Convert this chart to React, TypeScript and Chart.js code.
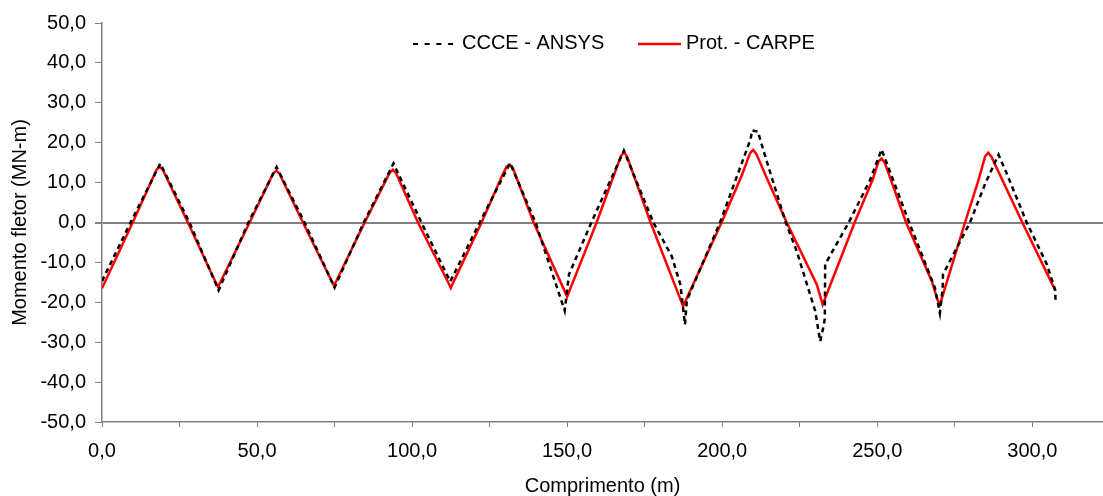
import React, { useEffect, useRef } from "react";
import { Chart, registerables } from "chart.js";

Chart.register(...registerables);

// Series names (legend order)
const seriesNames = ["CCCE - ANSYS", "Prot. - CARPE"];

// CCCE - ANSYS (black dashed)
const ansysX = [0, 9.2, 18.8, 28.2, 37.6, 47.2, 56.3, 65.3, 75.0, 84.4, 94.0, 103.0, 112.3, 121.8, 131.6, 139.8, 149.2, 150.6, 157.8, 168.3, 177.8, 183.7, 186.5, 188.0, 188.6, 199.3, 209.2, 209.6, 211.5, 214.3, 220.5, 224.0, 230.0, 231.6, 232.8, 233.1, 233.2, 240.8, 247.6, 251.4, 260.3, 268.6, 270.2, 271.1, 271.2, 279.9, 284.8, 289.1, 291.8, 298.2, 304.7, 307.4, 307.5];
const ansysY = [-14.7, 0, 14.8, 0, -17.0, 0, 13.9, 0, -16.3, 0, 14.8, 0, -14.8, 0, 14.9, 0, -22.1, -13.0, 0, 18.0, 0, -8.4, -15.5, -25.6, -19.5, 0, 21.0, 23.1, 22.8, 15.5, 0, -7.1, -22.2, -29.8, -25.6, -23.9, -10.5, 0, 10.5, 18.3, 0, -16.4, -22.7, -16.4, -13.0, 0, 9.7, 17.0, 12.2, 0, -10.5, -17.0, -20.2];

// Prot. - CARPE (red solid)
const carpeX = [0, 9.9, 17.6, 18.6, 19.6, 27.7, 36.6, 37.4, 38.2, 47.6, 55.2, 56.2, 57.2, 64.8, 74.0, 74.8, 75.6, 84.7, 92.8, 93.8, 94.8, 101.9, 111.7, 112.5, 113.3, 122.4, 129.3, 130.5, 131.5, 132.5, 139.2, 149.2, 150.0, 150.8, 159.5, 167.3, 168.3, 169.3, 176.9, 186.6, 187.4, 188.2, 199.8, 206.3, 209.0, 210.0, 211.0, 214.3, 220.8, 230.5, 232.4, 233.2, 242.7, 248.6, 250.4, 251.4, 252.4, 259.3, 267.6, 269.4, 270.2, 271.0, 278.3, 282.6, 284.8, 285.8, 286.8, 296.8, 307.4];
const carpeY = [-16.5, 0, 13.2, 14.0, 13.2, 0, -14.9, -16.1, -14.9, 0, 12.3, 13.0, 12.3, 0, -14.6, -15.8, -14.6, 0, 12.5, 13.2, 12.4, 0, -15.1, -16.4, -15.0, 0, 12.2, 14.0, 14.5, 13.6, 0, -17.2, -18.6, -17.0, 0, 16.6, 17.6, 16.6, 0, -19.4, -21.0, -19.6, 0, 11.8, 17.4, 18.2, 17.2, 11.3, 0, -15.5, -20.6, -19.0, 0, 10.9, 15.3, 16.0, 15.0, 0, -14.7, -19.3, -20.6, -18.6, 0, 10.5, 16.6, 17.5, 16.5, 0, -17.0];

// Axis ticks
const xTickValues = [0, 25, 50, 75, 100, 125, 150, 175, 200, 225, 250, 275, 300];
const xLabelValues = [0, 50, 100, 150, 200, 250, 300];
const yTickValues = [-50, -40, -30, -20, -10, 0, 10, 20, 30, 40, 50];

const xTitle = "Comprimento (m)";
const yTitle = "Momento fletor (MN-m)";

const FONT = "'Liberation Sans', Arial, Helvetica, sans-serif";
const AXIS_GRAY = "#808080";
const fmt = (v: number) => v.toFixed(1).replace(".", ",");

const legendPlugin = {
  id: "customLegend",
  afterDraw(chart: any) {
    const ctx = chart.ctx as CanvasRenderingContext2D;
    const y = 43;
    ctx.save();
    ctx.font = `20px ${FONT}`;
    ctx.textBaseline = "middle";
    ctx.fillStyle = "#000";
    // dashed sample
    ctx.strokeStyle = "#000";
    ctx.lineWidth = 2;
    ctx.setLineDash([5, 6.7]);
    ctx.beginPath();
    ctx.moveTo(413, y + 1);
    ctx.lineTo(456, y + 1);
    ctx.stroke();
    ctx.setLineDash([]);
    ctx.textAlign = "left";
    ctx.fillText(seriesNames[0], 462, y);
    // solid sample
    ctx.strokeStyle = "#FF0000";
    ctx.lineWidth = 2.5;
    ctx.beginPath();
    ctx.moveTo(638, y + 1);
    ctx.lineTo(681, y + 1);
    ctx.stroke();
    ctx.fillText(seriesNames[1], 686, y);
    ctx.restore();
  },
};

export default function App() {
  const canvasRef = useRef<HTMLCanvasElement | null>(null);

  useEffect(() => {
    if (!canvasRef.current) return;
    const chart = new Chart(canvasRef.current, {
      type: "line",
      data: {
        datasets: [
          {
            label: seriesNames[0],
            data: ansysX.map((x, i) => ({ x, y: ansysY[i] })),
            borderColor: "#000000",
            borderWidth: 2.5,
            borderDash: [5, 4],
            pointRadius: 0,
            tension: 0,
            fill: false,
          },
          {
            label: seriesNames[1],
            data: carpeX.map((x, i) => ({ x, y: carpeY[i] })),
            borderColor: "#FF0000",
            borderWidth: 2.5,
            pointRadius: 0,
            tension: 0,
            fill: false,
          },
        ],
      },
      options: {
        animation: false,
        responsive: false,
        maintainAspectRatio: false,
        layout: { padding: { top: 23, right: 0, left: 0, bottom: 0 } },
        plugins: {
          legend: { display: false },
          tooltip: { enabled: false },
          title: { display: false },
        },
        scales: {
          x: {
            type: "linear",
            min: 0,
            max: 322.8,
            afterFit: (scale: any) => {
              scale.height = 74;
            },
            afterBuildTicks: (scale: any) => {
              scale.ticks = xTickValues.map((v) => ({ value: v }));
            },
            ticks: {
              autoSkip: false,
              maxRotation: 0,
              padding: 12,
              color: "#000",
              font: { family: FONT, size: 20 },
              callback: (v: any) => (xLabelValues.includes(Number(v)) ? fmt(Number(v)) : ""),
            },
            grid: {
              drawOnChartArea: false,
              drawTicks: true,
              tickLength: 5,
              tickColor: AXIS_GRAY,
              color: AXIS_GRAY,
            },
            border: { display: true, color: AXIS_GRAY, width: 1.5 },
            title: {
              display: true,
              text: xTitle,
              color: "#000",
              font: { family: FONT, size: 20, lineHeight: 1 },
              padding: { top: 0, bottom: 0 },
            },
          },
          y: {
            type: "linear",
            min: -50,
            max: 50,
            afterFit: (scale: any) => {
              scale.width = 102;
            },
            afterBuildTicks: (scale: any) => {
              scale.ticks = yTickValues.map((v) => ({ value: v }));
            },
            ticks: {
              autoSkip: false,
              padding: 9,
              color: "#000",
              font: { family: FONT, size: 20 },
              callback: (v: any) => fmt(Number(v)),
            },
            grid: {
              drawOnChartArea: true,
              drawTicks: true,
              tickLength: 7,
              tickColor: AXIS_GRAY,
              color: (c: any) => (c.tick && c.tick.value === 0 ? AXIS_GRAY : "rgba(0,0,0,0)"),
              lineWidth: (c: any) => (c.tick && c.tick.value === 0 ? 2 : 1),
            },
            border: { display: true, color: AXIS_GRAY, width: 1.5 },
            title: {
              display: true,
              text: yTitle,
              color: "#000",
              font: { family: FONT, size: 20, lineHeight: 1.2 },
              padding: { top: 8, bottom: 0 },
            },
          },
        },
      },
      plugins: [legendPlugin],
    });
    return () => chart.destroy();
  }, []);

  return (
    <div style={{ position: "absolute", left: 0, top: 0, width: 1103, height: 496, background: "#fff" }}>
      <canvas ref={canvasRef} width={1103} height={496} style={{ display: "block", width: 1103, height: 496 }} />
    </div>
  );
}
